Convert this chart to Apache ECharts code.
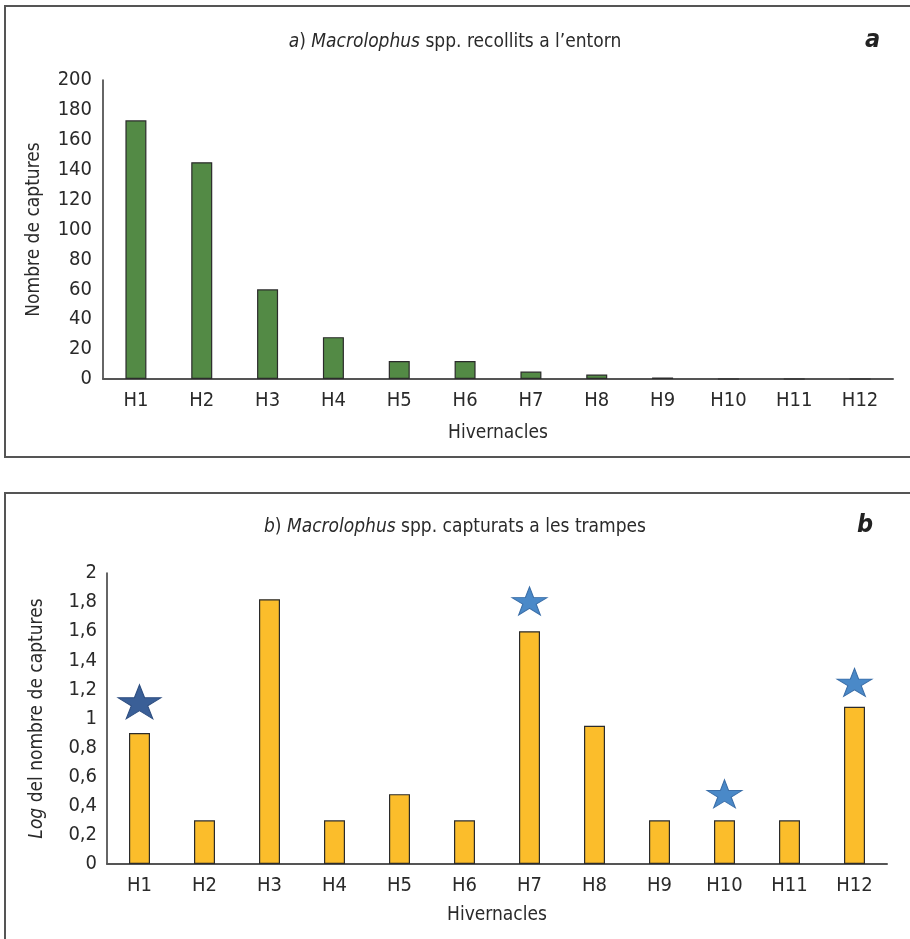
<!DOCTYPE html>
<html>
<head>
<meta charset="utf-8">
<script src="https://cdn.jsdelivr.net/npm/echarts@6/dist/echarts.min.js"></script>
<style>
html,body{margin:0;padding:0;background:#fff;}
#chart{width:910px;height:939px;}
</style>
</head>
<body>
<div id="chart"></div>
<script>
// ---- data ----
const categories = ['H1','H2','H3','H4','H5','H6','H7','H8','H9','H10','H11','H12'];
const capturesEntorn = [173, 145, 60, 28, 12, 12, 5, 3, 1, 0, 0, 0];
const logCapturesTrampes = [0.90, 0.30, 1.82, 0.30, 0.48, 0.30, 1.60, 0.95, 0.30, 0.30, 0.30, 1.08];
const starDark = [1.115, null, null, null, null, null, null, null, null, null, null, null];
const starLight = [null, null, null, null, null, null, 1.808, null, null, 0.482, null, 1.248];
const topTicks = {min: 0, max: 200, interval: 20};
const bottomTicks = {min: 0, max: 2, interval: 0.2};

const FONT = '"Liberation Sans Narrow", "DejaVu Sans Condensed", "Liberation Sans", sans-serif';
const TXT = '#2a2a2a';
const starPath = 'path://M50,0 L61.8,36.3 L100,36.3 L69.1,58.8 L80.9,95.1 L50,72.6 L19.1,95.1 L30.9,58.8 L0,36.3 L38.2,36.3 Z';

const chart = echarts.init(document.getElementById('chart'), null, {renderer: 'canvas'});

function catAxis(gridIndex, gap) {
  return {
    type: 'category', gridIndex: gridIndex, data: categories,
    name: 'Hivernacles', nameLocation: 'middle', nameGap: gap,
    nameTextStyle: {fontFamily: FONT, fontSize: 19, color: TXT},
    axisLine: {lineStyle: {color: '#555', width: 2}},
    axisTick: {show: false},
    axisLabel: {fontFamily: FONT, fontSize: 20, color: TXT, margin: 12},
    splitLine: {show: false}
  };
}

chart.setOption({
  backgroundColor: '#fff',
  animation: false,
  title: [
    {text: '{i|a}) {i|Macrolophus} spp. recollits a l\u2019entorn', left: 'center', top: 28,
     textStyle: {fontFamily: FONT, fontSize: 19, fontWeight: 'normal', color: TXT,
       rich: {i: {fontFamily: FONT, fontSize: 19, fontStyle: 'italic', color: TXT}}}},
    {text: 'a', left: 860, top: 23,
     textStyle: {fontFamily: FONT, fontSize: 25, fontWeight: 'bold', fontStyle: 'italic', color: '#222'}},
    {text: '{i|b}) {i|Macrolophus} spp. capturats a les trampes', left: 'center', top: 513,
     textStyle: {fontFamily: FONT, fontSize: 19, fontWeight: 'normal', color: TXT,
       rich: {i: {fontFamily: FONT, fontSize: 19, fontStyle: 'italic', color: TXT}}}},
    {text: 'b', left: 852, top: 508,
     textStyle: {fontFamily: FONT, fontSize: 25, fontWeight: 'bold', fontStyle: 'italic', color: '#222'}}
  ],
  graphic: [
    {type: 'rect', shape: {x: 5, y: 6, width: 920, height: 451}, style: {fill: 'none', stroke: '#555', lineWidth: 2}, silent: true},
    {type: 'rect', shape: {x: 5, y: 493, width: 920, height: 470}, style: {fill: 'none', stroke: '#555', lineWidth: 2}, silent: true}
  ],
  grid: [
    {left: 103, top: 80, width: 790, height: 299},
    {left: 107, top: 573, width: 780, height: 291}
  ],
  xAxis: [catAxis(0, 45), catAxis(1, 42)],
  yAxis: [
    {type: 'value', gridIndex: 0, min: topTicks.min, max: topTicks.max, interval: topTicks.interval,
     name: 'Nombre de captures', nameLocation: 'middle', nameGap: 59,
     nameTextStyle: {fontFamily: FONT, fontSize: 19, color: TXT},
     axisLine: {show: true, lineStyle: {color: '#333', width: 1.5}},
     axisTick: {show: false},
     axisLabel: {fontFamily: FONT, fontSize: 20, color: TXT, margin: 11},
     splitLine: {show: false}},
    {type: 'value', gridIndex: 1, min: bottomTicks.min, max: bottomTicks.max, interval: bottomTicks.interval,
     name: '{i|Log} del nombre de captures', nameLocation: 'middle', nameGap: 60,
     nameTextStyle: {fontFamily: FONT, fontSize: 19, color: TXT,
       rich: {i: {fontFamily: FONT, fontSize: 19, fontStyle: 'italic', color: TXT}}},
     axisLine: {show: true, lineStyle: {color: '#333', width: 1.5}},
     axisTick: {show: false},
     axisLabel: {fontFamily: FONT, fontSize: 20, color: TXT, margin: 10,
       formatter: v => String(+v.toFixed(1)).replace('.', ',')},
     splitLine: {show: false}}
  ],
  series: [
    {type: 'bar', xAxisIndex: 0, yAxisIndex: 0, data: capturesEntorn, barWidth: 21,
     itemStyle: {color: '#538A45', borderColor: '#2b2b2b', borderWidth: 1.2}},
    {type: 'bar', xAxisIndex: 1, yAxisIndex: 1, data: logCapturesTrampes, barWidth: 21,
     itemStyle: {color: '#FBBD2B', borderColor: '#2b2b2b', borderWidth: 1.2}},
    {type: 'scatter', xAxisIndex: 1, yAxisIndex: 1, data: starDark, symbol: starPath,
     symbolSize: [43, 34], symbolKeepAspect: false, z: 5,
     itemStyle: {color: '#3A5F97', borderColor: '#2E4E80', borderWidth: 1, opacity: 1}},
    {type: 'scatter', xAxisIndex: 1, yAxisIndex: 1, data: starLight, symbol: starPath,
     symbolSize: [35, 28], symbolKeepAspect: false, z: 5,
     itemStyle: {color: '#4A89C8', borderColor: '#3A6EA8', borderWidth: 1, opacity: 1}}
  ]
});
</script>
</body>
</html>
